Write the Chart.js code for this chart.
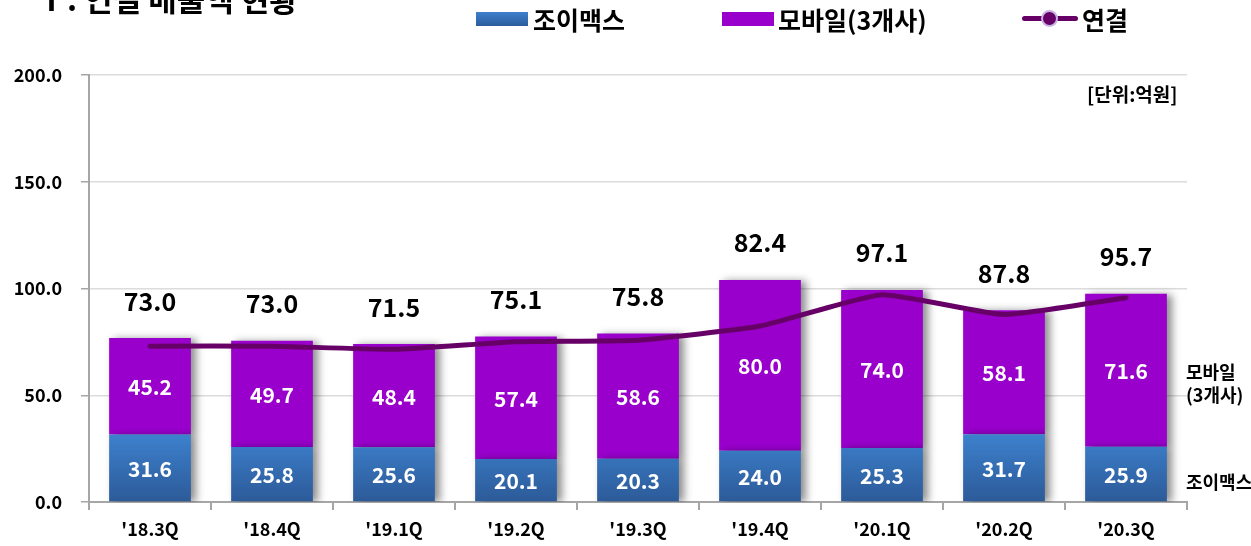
<!DOCTYPE html>
<html>
<head>
<meta charset="utf-8">
<script src="https://cdn.jsdelivr.net/npm/chart.js@4.4.1/dist/chart.umd.min.js"></script>
<style>
    html, body { margin: 0; padding: 0; background: #fff; }
    #wrap { position: relative; width: 1251px; height: 546px; overflow: hidden; font-family: 'Noto Sans CJK KR', sans-serif; font-weight: bold; color: #000; }
    #chart { position: absolute; left: 0; top: 0; }
    .abs { position: absolute; white-space: nowrap; }
    .title { left: 36px; top: -25px; font-size: 31px; }
    .leg { font-size: 25px; line-height: 30px; top: 4px; }
    .sw { position: absolute; top: 12px; height: 14px; width: 52px; }
    .unit { left: 1087px; top: 81px; font-size: 19px; line-height: 26px; }
    .side { font-size: 18px; line-height: 23px; left: 1186px; }
</style>
</head>
<body>
<div id="wrap">
    <canvas id="chart" width="1251" height="546"></canvas>
    <div class="abs title">Ⅰ. 연결 매출액 현황</div>
    <div class="sw" style="left:476px; background:linear-gradient(#3d80cd,#2d5c9c);"></div>
    <div class="abs leg" style="left:533px;">조이맥스</div>
    <div class="sw" style="left:722px; background:#9900cc;"></div>
    <div class="abs leg" style="left:778px;">모바일(3개사)</div>
    <div class="abs" style="left:1022px; top:16px; width:56px; height:5px; background:#660066; border-radius:3px;"></div>
    <div class="abs" style="left:1041px; top:10px; width:13px; height:13px; background:#660066; border:2px solid #c9b3e3; border-radius:50%;"></div>
    <div class="abs leg" style="left:1082px;">연결</div>
    <div class="abs unit">[단위:억원]</div>
    <div class="abs side" style="top:360px;">모바일<br>(3개사)</div>
    <div class="abs side" style="top:470px;">조이맥스</div>
</div>
<script>
var categories = ["'18.3Q", "'18.4Q", "'19.1Q", "'19.2Q", "'19.3Q", "'19.4Q", "'20.1Q", "'20.2Q", "'20.3Q"];
var joymax = [31.6, 25.8, 25.6, 20.1, 20.3, 24.0, 25.3, 31.7, 25.9];
var mobile = [45.2, 49.7, 48.4, 57.4, 58.6, 80.0, 74.0, 58.1, 71.6];
var consolidated = [73.0, 73.0, 71.5, 75.1, 75.8, 82.4, 97.1, 87.8, 95.7];
var yTicks = [0, 50, 100, 150, 200];

var FONT = "'Noto Sans CJK KR', sans-serif";

function blueFill(ctx) {
    var chart = ctx.chart;
    if (!chart.chartArea) return '#3a78c4';
    var y = chart.scales.y;
    var g = chart.ctx.createLinearGradient(0, y.getPixelForValue(32), 0, y.getPixelForValue(0));
    g.addColorStop(0, '#3d81ce');
    g.addColorStop(1, '#2c5a98');
    return g;
}

// shadow on the bars
const barShadow = {
    id: 'barShadow',
    beforeDatasetDraw: function(chart, args) {
        if (args.meta.type !== 'bar') return;
        var c = chart.ctx;
        c.save();
        c.shadowColor = 'rgba(0,0,0,0.45)';
        c.shadowBlur = 8;
        c.shadowOffsetX = 5;
        c.shadowOffsetY = 1;
    },
    afterDatasetDraw: function(chart, args) {
        if (args.meta.type !== 'bar') return;
        chart.ctx.restore();
    }
};

// numbers inside bars and the totals above
const valueLabels = {
    id: 'valueLabels',
    afterDatasetsDraw: function(chart) {
        var c = chart.ctx;
        var m0 = chart.getDatasetMeta(0);
        var m1 = chart.getDatasetMeta(1);
        c.save();
        c.textAlign = 'center';
        c.textBaseline = 'middle';
        c.fillStyle = '#fff';
        c.font = 'bold 21px ' + FONT;
        [m0, m1].forEach(function(meta, d) {
            var vals = d === 0 ? joymax : mobile;
            meta.data.forEach(function(bar, i) {
                c.fillText(vals[i].toFixed(1), bar.x, (bar.y + bar.base) / 2 + 1);
            });
        });
        c.fillStyle = '#000';
        c.font = 'bold 25px ' + FONT;
        m1.data.forEach(function(bar, i) {
            c.fillText(consolidated[i].toFixed(1), bar.x, bar.y - 37);
        });
        c.restore();
    }
};

var chart = new Chart(document.getElementById('chart'), {
    type: 'bar',
    data: {
        labels: categories,
        datasets: [{
            label: '조이맥스',
            data: joymax,
            backgroundColor: blueFill,
            stack: 's',
            order: 1,
            barPercentage: 0.67,
            categoryPercentage: 1
        }, {
            label: '모바일(3개사)',
            data: mobile,
            backgroundColor: '#9900cc',
            stack: 's',
            order: 1,
            barPercentage: 0.67,
            categoryPercentage: 1
        }, {
            type: 'line',
            label: '연결',
            data: consolidated,
            borderColor: '#660066',
            borderWidth: 5,
            borderCapStyle: 'round',
            pointRadius: 0,
            tension: 0.15,
            order: 0
        }]
    },
    options: {
        responsive: false,
        animation: false,
        maintainAspectRatio: false,
        layout: { padding: { left: 0, top: 75, right: 64, bottom: 0 } },
        plugins: {
            legend: { display: false },
            tooltip: { enabled: false }
        },
        scales: {
            x: {
                stacked: true,
                afterFit: function(s) { s.height = 44; },
                grid: {
                    offset: true,
                    drawOnChartArea: false,
                    drawTicks: true,
                    tickLength: 8,
                    color: '#a6a6a6',
                    lineWidth: 2
                },
                border: { color: '#a6a6a6', width: 2 },
                ticks: {
                    color: '#000',
                    padding: 8,
                    font: { family: FONT, size: 18, weight: 'bold' }
                }
            },
            y: {
                stacked: true,
                min: 0,
                max: 200,
                afterFit: function(s) { s.width = 89; },
                afterBuildTicks: function(s) {
                    s.ticks = yTicks.map(function(v) { return { value: v }; });
                },
                grid: {
                    color: '#dcdcdc',
                    lineWidth: 1.5,
                    tickColor: '#a6a6a6',
                    tickLength: 8
                },
                border: { color: '#a6a6a6', width: 2 },
                ticks: {
                    color: '#000',
                    padding: 19,
                    font: { family: FONT, size: 18, weight: 'bold' },
                    callback: function(v) { return Number(v).toFixed(1); }
                }
            }
        }
    },
    plugins: [barShadow, valueLabels]
});
</script>
</body>
</html>
